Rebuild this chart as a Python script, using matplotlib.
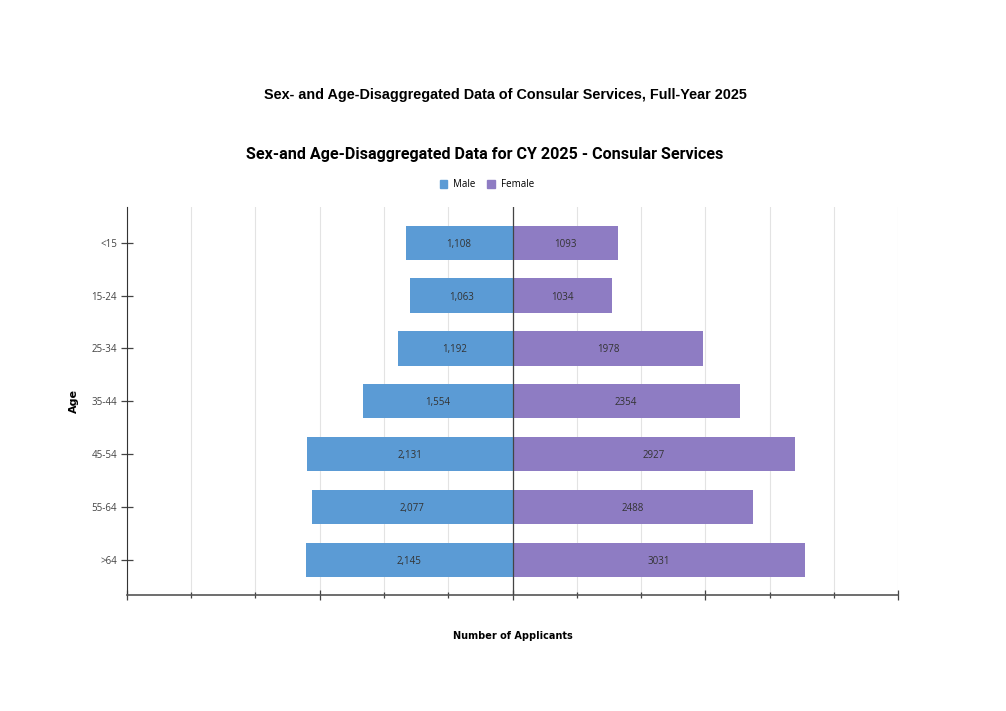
import numpy as np
import matplotlib.pyplot as plt
from matplotlib.patches import Patch

# Datos
age_groups = ["<15", "15-24", "25-34", "35-44", "45-54", "55-64", ">64"]
male = [1108, 1063, 1192, 1554, 2131, 2077, 2145]
female = [1093, 1034, 1978, 2354, 2927, 2488, 3031]

MALE_COLOR = "#5b9bd5"
FEMALE_COLOR = "#8e7cc3"

fig = plt.figure(figsize=(10.06, 7.11), dpi=100)
ax = fig.add_axes([0.126, 0.163, 0.767, 0.546])

y = np.arange(len(age_groups))
ax.barh(y, [-m for m in male], height=0.65, color=MALE_COLOR, zorder=3)
ax.barh(y, female, height=0.65, color=FEMALE_COLOR, zorder=3)

for yi, m, f in zip(y, male, female):
    ax.text(-m / 2, yi, f"{m:,}", ha="center", va="center_baseline", fontsize=7,
            color="#333333", family="Open Sans", zorder=4)
    ax.text(f / 2, yi, f"{f}", ha="center", va="center_baseline", fontsize=7,
            color="#333333", family="Open Sans", zorder=4)

ax.set_xlim(-4000, 4000)
ax.set_ylim(len(age_groups) - 0.33, -0.68)
ax.axvline(0, color="#444444", linewidth=0.9, zorder=4)

ax.set_xticks([-4000, -2000, 0, 2000, 4000])
ax.set_xticks(np.linspace(-4000, 4000, 13), minor=True)
ax.tick_params(axis="x", which="major", length=7, direction="inout",
               width=0.9, color="#444444", labelbottom=False)
ax.tick_params(axis="x", which="minor", length=5, direction="inout",
               width=0.9, color="#444444")
ax.grid(True, axis="x", which="both", color="#e3e3e3", linewidth=0.8, zorder=0)

ax.set_yticks(y)
ax.set_yticklabels(age_groups, fontsize=7, family="Open Sans", color="#444444")
ax.tick_params(axis="y", length=8, direction="inout", width=0.9, color="#444444", pad=3)

for side in ["top", "right"]:
    ax.spines[side].set_visible(False)
ax.spines["left"].set_color("#333333")
ax.spines["bottom"].set_color("#555555")
ax.spines["bottom"].set_linewidth(1.2)

ax.set_xlabel("Number of Applicants", fontsize=7, fontweight="bold", labelpad=20)
ax.set_ylabel("Age", fontsize=8, fontweight="bold", labelpad=9)

fig.text(0.502, 0.866, "Sex- and Age-Disaggregated Data of Consular Services, Full-Year 2025",
         ha="center", va="center", fontsize=10.4, fontweight="bold", family="Liberation Sans")
fig.text(0.482, 0.783, "Sex-and Age-Disaggregated Data for CY 2025 - Consular Services",
         ha="center", va="center", fontsize=11.6, fontweight="bold", family="Roboto")

handles = [Patch(color=MALE_COLOR, label="Male"), Patch(color=FEMALE_COLOR, label="Female")]
fig.legend(handles=handles, loc="center", bbox_to_anchor=(0.484, 0.740), ncol=2,
           frameon=False, prop={"family": "Open Sans", "size": 7},
           handlelength=0.8, handleheight=0.8, columnspacing=1.2, handletextpad=0.6)

fig.savefig("out.png", dpi=100)
